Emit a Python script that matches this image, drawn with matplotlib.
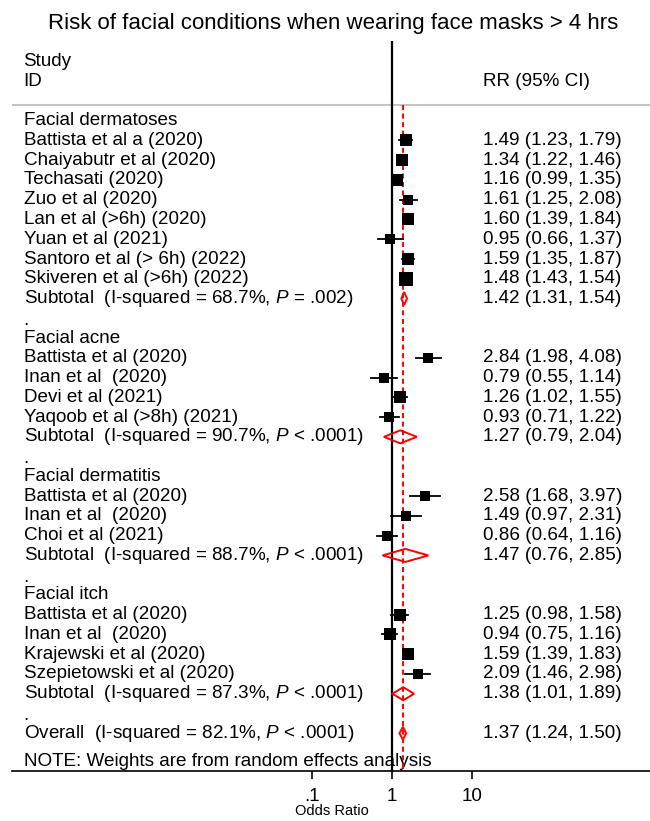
import numpy as np
import matplotlib
matplotlib.use("Agg")
import matplotlib.pyplot as plt
from matplotlib import transforms

plt.rcParams['font.family'] = ['Liberation Sans', 'DejaVu Sans']
plt.rcParams['mathtext.fontset'] = 'custom'
plt.rcParams['mathtext.rm'] = 'Liberation Sans'
plt.rcParams['mathtext.it'] = 'Liberation Sans:italic'

# Data
groups = ["Facial dermatoses", "Facial acne", "Facial dermatitis", "Facial itch"]

studies = [
    ["Battista et al a (2020)", "Chaiyabutr et al (2020)", "Techasati (2020)",
     "Zuo et al (2020)", "Lan et al (>6h) (2020)", "Yuan et al (2021)",
     "Santoro et al (> 6h) (2022)", "Skiveren et al (>6h) (2022)"],
    ["Battista et al (2020)", "Inan et al  (2020)", "Devi et al (2021)",
     "Yaqoob et al (>8h) (2021)"],
    ["Battista et al (2020)", "Inan et al  (2020)", "Choi et al (2021)"],
    ["Battista et al (2020)", "Inan et al  (2020)", "Krajewski et al (2020)",
     "Szepietowski et al (2020)"],
]
rr = [
    [1.49, 1.34, 1.16, 1.61, 1.60, 0.95, 1.59, 1.48],
    [2.84, 0.79, 1.26, 0.93],
    [2.58, 1.49, 0.86],
    [1.25, 0.94, 1.59, 2.09],
]
lo = [
    [1.23, 1.22, 0.99, 1.25, 1.39, 0.66, 1.35, 1.43],
    [1.98, 0.55, 1.02, 0.71],
    [1.68, 0.97, 0.64],
    [0.98, 0.75, 1.39, 1.46],
]
hi = [
    [1.79, 1.46, 1.35, 2.08, 1.84, 1.37, 1.87, 1.54],
    [4.08, 1.14, 1.55, 1.22],
    [3.97, 2.31, 1.16],
    [1.58, 1.16, 1.83, 2.98],
]
# approximate study weights (%)
weights = [
    [6.0, 6.6, 6.3, 4.2, 6.0, 3.8, 6.0, 6.8],
    [3.9, 3.8, 5.6, 4.4],
    [3.6, 3.6, 4.6],
    [5.4, 5.4, 6.4, 4.4],
]

sub_rr = [1.42, 1.27, 1.47, 1.38]
sub_lo = [1.31, 0.79, 0.76, 1.01]
sub_hi = [1.54, 2.04, 2.85, 1.89]
sub_i2 = ["68.7%", "90.7%", "88.7%", "87.3%"]
sub_p = ["= .002", "< .0001", "< .0001", "< .0001"]

overall_rr, overall_lo, overall_hi = 1.37, 1.24, 1.50
overall_i2, overall_p = "82.1%", "< .0001"

title = "Risk of facial conditions when wearing face masks > 4 hrs"
xticks = [0.1, 1, 10]
xticklabels = [".1", "1", "10"]

W, H = 650, 821
fig = plt.figure(figsize=(6.5, 8.21), dpi=100)

# pixel geometry of the plot
x_one, decade = 392.0, 79.7
ax_left, ax_right, ax_top, ax_bot = 12, 650, 41, 771
row0, step = 120.7, 19.76

ax = fig.add_axes([ax_left / W, 1 - ax_bot / H, (ax_right - ax_left) / W, (ax_bot - ax_top) / H])
ax.set_xscale("log")
ax.set_xlim(10 ** ((ax_left - x_one) / decade), 10 ** ((ax_right - x_one) / decade))
ax.set_ylim((ax_bot - row0) / step, (ax_top - row0) / step)

for s in ["top", "left", "right"]:
    ax.spines[s].set_visible(False)
ax.spines["bottom"].set_linewidth(1.2)
ax.set_yticks([])
ax.set_xticks(xticks)
ax.set_xticklabels(xticklabels)
ax.minorticks_off()
ax.tick_params(axis="x", direction="out", length=6, width=1.2, labelsize=13.5, pad=6)

# x axis title placed under the tick labels
fig.text(332 / W, 1 - 811 / H, "Odds Ratio", ha="center", va="center", fontsize=10.5)

trans = transforms.blended_transform_factory(fig.transFigure, ax.transData)
lab_x = 23.5 / W
est_x = 483 / W
fs = 13.6

fig.text(333 / W, 1 - 23 / H, title, ha="center", va="center", fontsize=16)

ax.text(lab_x, -3.0, "Study", transform=trans, fontsize=fs, va="center")
ax.text(lab_x, -2.0, "ID", transform=trans, fontsize=fs, va="center")
ax.text(est_x, -2.0, "RR (95% CI)", transform=trans, fontsize=fs, va="center")

hdr = (105 - row0) / step
ax.axhline(hdr, color="#c4c4c4", lw=1.5)

ax.axvline(1, color="black", lw=1.6, zorder=2)
ax.plot([overall_rr, overall_rr], [hdr, ax.get_ylim()[0]], color="red", lw=1.4,
        ls=(0, (2.6, 1.8)), zorder=3, clip_on=False)


def est_text(a, b, c):
    return f"{a:.2f} ({b:.2f}, {c:.2f})"


def diamond(y, a, b, c):
    h = 0.33
    ax.fill([b, a, c, a, b], [y, y - h, y, y + h, y], facecolor="none",
            edgecolor="red", lw=1.4, zorder=4)


r = 0
for g in range(len(groups)):
    ax.text(lab_x, r, groups[g], transform=trans, fontsize=fs, va="center")
    r += 1
    for i in range(len(studies[g])):
        ax.text(lab_x, r, studies[g][i], transform=trans, fontsize=fs, va="center")
        ax.text(est_x, r, est_text(rr[g][i], lo[g][i], hi[g][i]), transform=trans,
                fontsize=fs, va="center")
        ax.plot([lo[g][i], hi[g][i]], [r, r], color="black", lw=1.3, zorder=5)
        side = 5.0 * np.sqrt(weights[g][i]) * 0.72
        ax.plot(rr[g][i], r, marker="s", ms=side, color="black", mew=0, zorder=5)
        r += 1
    ax.text(lab_x, r, f"Subtotal  (I-squared = {sub_i2[g]}, $\\it{{P}}$ {sub_p[g]})",
            transform=trans, fontsize=fs, va="center")
    ax.text(est_x, r, est_text(sub_rr[g], sub_lo[g], sub_hi[g]), transform=trans,
            fontsize=fs, va="center")
    diamond(r, sub_rr[g], sub_lo[g], sub_hi[g])
    r += 1
    ax.text(lab_x, r + 0.1, ".", transform=trans, fontsize=fs, va="center")
    r += 1

ax.text(lab_x, r, f"Overall  (I-squared = {overall_i2}, $\\it{{P}}$ {overall_p})",
        transform=trans, fontsize=fs, va="center")
ax.text(est_x, r, est_text(overall_rr, overall_lo, overall_hi), transform=trans,
        fontsize=fs, va="center")
diamond(r, overall_rr, overall_lo, overall_hi)

ax.text(lab_x, (761.7 - row0) / step, "NOTE: Weights are from random effects analysis",
        transform=trans, fontsize=fs, va="center", zorder=1)

fig.savefig("out.png", dpi=100)
